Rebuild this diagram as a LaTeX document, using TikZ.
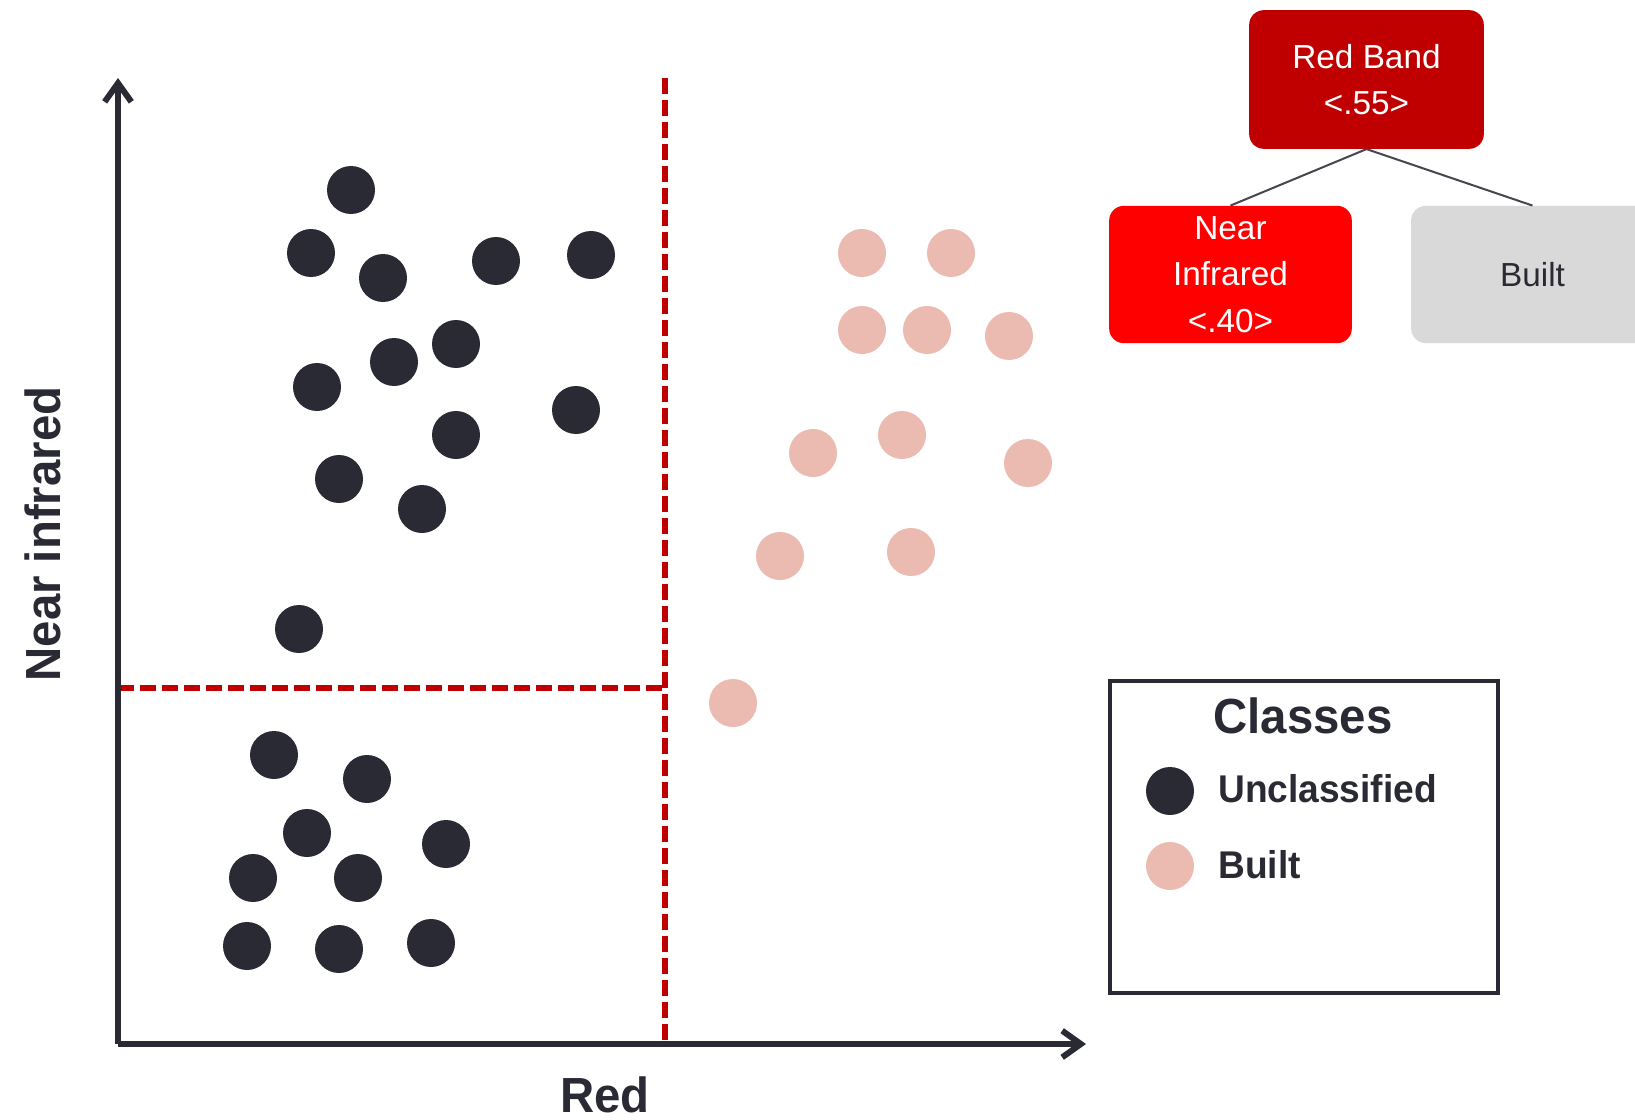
\documentclass[tikz,border=0pt]{standalone}
\usepackage{fontspec}
\setmainfont{Liberation Sans}
\newfontfamily\lblfont[FakeStretch=0.96]{Liberation Sans}
\usetikzlibrary{arrows.meta}
\definecolor{ink}{RGB}{42,42,53}
\definecolor{pinkc}{RGB}{235,186,177}
\definecolor{darkred}{RGB}{192,0,0}
\definecolor{brightred}{RGB}{255,0,0}
\definecolor{lightgray}{RGB}{217,217,217}
\definecolor{linkgray}{RGB}{70,70,80}
\begin{document}
\begin{tikzpicture}[x=0.75pt,y=-0.75pt,
  dotU/.style={circle, fill=ink, inner sep=0pt, minimum size=36pt},
  dotB/.style={circle, fill=pinkc, inner sep=0pt, minimum size=36pt},
  treebox/.style={rounded corners=11pt, inner sep=0pt, align=center,
    font=\fontsize{25}{35}\selectfont},
  axislbl/.style={font=\lblfont\bfseries\fontsize{37}{44}\selectfont, text=ink, inner sep=0pt},
  legtxt/.style={font=\lblfont\bfseries\fontsize{29}{35}\selectfont, text=ink, inner sep=0pt},
  splitline/.style={draw=darkred, line width=4.5pt, dash pattern=on 12pt off 4.5pt},
  axisline/.style={draw=ink, line width=4.5pt, -{Straight Barb[length=14pt,width=20pt]}},
  link/.style={draw=linkgray, line width=1.5pt}
]
\useasboundingbox (0,0) rectangle (1635,1120);
\clip (0,0) rectangle (1635,1120);
\fill[white] (0,0) rectangle (1635,1120);

% axes anchor points
\coordinate (origin) at (118,1044);
\coordinate (ytop) at (118,78);
\coordinate (xend) at (1086,1044);
\coordinate (vtop) at (665,78);
\coordinate (vbot) at (665,1044);
\coordinate (hleft) at (118,688);
\coordinate (hright) at (665,688);

% split lines
\draw[splitline] (vtop) -- (vbot);
\draw[splitline] (hleft) -- (hright);

% axes
\draw[axisline] (origin) -- (ytop);
\draw[axisline] (origin) -- (xend);

% axis labels
\node[axislbl, rotate=90, anchor=base] (ylab) at (60,534) {Near infrared};
\node[axislbl, anchor=base] (xlab) at (605,1112) {Red};

% unclassified dots
\foreach \x/\y [count=\i] in {351/190, 311/253, 383/278, 496/261, 591/255,
  456/344, 394/362, 317/387, 576/410, 456/435, 339/479, 422/509, 299/629,
  274/755, 367/779, 307/833, 446/844, 253/878, 358/878, 247/946, 339/949, 431/943}
  \node[dotU] (u\i) at (\x,\y) {};

% built dots
\foreach \x/\y [count=\i] in {862/253, 951/253, 862/330, 927/330, 1009/336,
  813/453, 902/435, 1028/463, 780/556, 911/552, 733/703}
  \node[dotB] (b\i) at (\x,\y) {};

% decision tree
\node[treebox, fill=darkred, text=white, minimum width=176pt, minimum height=104pt]
  (rb) at (1366.5,79.5) {Red Band\\{<.55>}};
\node[treebox, fill=brightred, text=white, minimum width=182pt, minimum height=103pt]
  (ni) at (1230.5,274.5) {Near\\Infrared\\{<.40>}};
\node[treebox, fill=lightgray, text=ink, minimum width=182pt, minimum height=103pt]
  (bt) at (1532.5,274.5) {Built};
\draw[link] (rb.south) -- (ni.north);
\draw[link] (rb.south) -- (bt.north);

% legend
\node[draw=ink, line width=2.5pt, minimum width=291pt, minimum height=234pt, inner sep=0pt]
  (legend) at (1304,837) {};
\node[axislbl, anchor=base] (legtitle) at (1303,733) {Classes};
\node[dotU] (ldu) at (1170,791) {};
\node[dotB] (ldb) at (1170,866) {};
\node[legtxt, anchor=base west] (ltu) at (1218,802) {Unclassified};
\node[legtxt, anchor=base west] (ltb) at (1218,878) {Built};
\end{tikzpicture}
\end{document}
